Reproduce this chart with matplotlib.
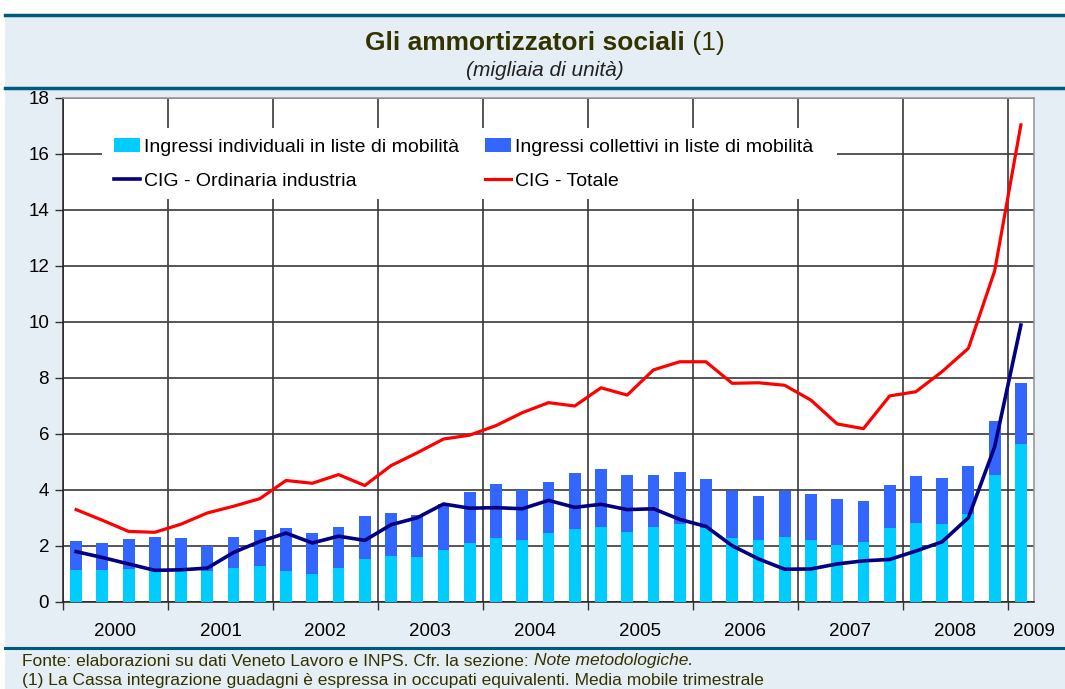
import numpy as np
import matplotlib
matplotlib.use('Agg')
import matplotlib.pyplot as plt
from matplotlib.patches import Rectangle, Patch
from matplotlib.lines import Line2D

plt.rcParams['font.family'] = ['Liberation Sans', 'DejaVu Sans']

# Dati trimestrali 2000 T1 - 2009 T1 (migliaia di unità)
anni = ['2000', '2001', '2002', '2003', '2004', '2005', '2006', '2007', '2008', '2009']
individuali = [1.16, 1.15, 1.18, 1.15, 1.12, 1.12, 1.23, 1.28, 1.11, 0.99, 1.21, 1.55,
               1.66, 1.61, 1.85, 2.09, 2.28, 2.20, 2.45, 2.59, 2.69, 2.49, 2.69, 2.80,
               2.65, 2.28, 2.22, 2.32, 2.20, 2.05, 2.13, 2.63, 2.83, 2.78, 3.13, 4.53, 5.63]
collettivi = [1.01, 0.94, 1.08, 1.16, 1.16, 0.88, 1.10, 1.30, 1.54, 1.46, 1.47, 1.52,
              1.51, 1.48, 1.65, 1.84, 1.95, 1.81, 1.83, 2.00, 2.07, 2.04, 1.83, 1.85,
              1.75, 1.69, 1.56, 1.65, 1.66, 1.64, 1.47, 1.54, 1.67, 1.65, 1.73, 1.93, 2.20]
cig_ordinaria = [1.80, 1.59, 1.36, 1.13, 1.15, 1.21, 1.77, 2.16, 2.46, 2.11, 2.35, 2.20,
                 2.76, 3.01, 3.50, 3.35, 3.37, 3.33, 3.63, 3.38, 3.49, 3.30, 3.33, 2.95,
                 2.70, 2.01, 1.54, 1.17, 1.18, 1.36, 1.47, 1.52, 1.82, 2.15, 3.01, 5.54, 9.89]
cig_totale = [3.30, 2.92, 2.52, 2.49, 2.78, 3.18, 3.42, 3.69, 4.34, 4.24, 4.55, 4.16,
              4.87, 5.33, 5.82, 5.96, 6.30, 6.76, 7.12, 7.00, 7.65, 7.39, 8.29, 8.58,
              8.58, 7.81, 7.83, 7.74, 7.21, 6.36, 6.19, 7.36, 7.51, 8.23, 9.06, 11.82, 17.04]

W, H = 1065, 689
fig = plt.figure(figsize=(W / 100, H / 100), dpi=100)
fig.patch.set_facecolor('white')

def px(x, y):
    return x / W, 1 - y / H

# sfondo azzurro e filetti
bg = '#E6EEF5'
rule = '#005A80'
olive = '#333300'
fig.add_artist(Rectangle(px(5, 689), 1, (689 - 14) / H, transform=fig.transFigure,
                         facecolor=bg, edgecolor='none', zorder=-10))
for yy, lw in [(14.5, 2.5), (87.5, 2.5), (648, 2.2)]:
    fig.add_artist(Line2D([5 / W, 1], [1 - yy / H] * 2, color=rule, lw=lw, zorder=-5))

# assi
l, r, t, b = 63, 1034, 98, 602
ax = fig.add_axes([l / W, 1 - b / H, (r - l) / W, (b - t) / H])
ax.set_facecolor('white')

x = np.arange(len(individuali))
ax.bar(x, individuali, width=0.45, color='#00CCFF', zorder=3)
ax.bar(x, collettivi, width=0.45, bottom=individuali, color='#3366FF', zorder=3)
ax.plot(x, cig_ordinaria, color='#000080', lw=2.6, zorder=4)
ax.plot(x, cig_totale, color='#FF0000', lw=2.3, zorder=4)

ax.set_xlim(-0.5, len(x) - 0.5)
ax.set_ylim(0, 18)
ax.set_yticks(np.arange(0, 19, 2))
ax.set_xticks(np.arange(-0.5, len(x) - 1, 4))
ax.set_xticks([1.5 + 4 * i for i in range(9)] + [36.5], minor=True)
ax.set_xticklabels([])
ax.set_xticklabels(anni, minor=True)
ax.tick_params(axis='x', which='major', length=6, width=1, color='#333333', direction='out')
ax.tick_params(axis='x', which='minor', length=0, pad=15, labelsize=13.5)
ax.tick_params(axis='y', length=6, width=1, color='#333333', pad=4, labelsize=13.5)
ax.grid(True, which='major', color='#383838', lw=1.2, zorder=1)
ax.set_axisbelow(True)
for s in ['top', 'right']:
    ax.spines[s].set_color('#999999')
    ax.spines[s].set_linewidth(1.2)
for s in ['left', 'bottom']:
    ax.spines[s].set_color('#222222')
    ax.spines[s].set_linewidth(1.1)

# legenda su fondo bianco
ax.add_patch(Rectangle(px(102, 199), (837 - 102) / W, (199 - 128) / H,
                       transform=fig.transFigure, facecolor='white', edgecolor='none', zorder=2))
handles = [Patch(facecolor='#00CCFF'), Patch(facecolor='#3366FF'),
           Line2D([], [], color='#000080', lw=2.6), Line2D([], [], color='#FF0000', lw=2.3)]
labels = ['Ingressi individuali in liste di mobilità', 'Ingressi collettivi in liste di mobilità',
          'CIG - Ordinaria industria', 'CIG - Totale']
order = [0, 2, 1, 3]
leg = ax.legend([handles[i] for i in order], [labels[i] for i in order], ncol=2,
                loc='upper left', bbox_to_anchor=px(114, 138), bbox_transform=fig.transFigure,
                frameon=False, fontsize=14, handlelength=1.35, handleheight=0.75,
                handletextpad=0.2, columnspacing=1.3, labelspacing=0.85, borderpad=0,
                borderaxespad=0)
leg.set_zorder(5)

# titolo
fig.canvas.draw()
rend = fig.canvas.get_renderer()
t1 = fig.text(0, 0, 'Gli ammortizzatori sociali', fontsize=19, fontweight='bold', color=olive)
t2 = fig.text(0, 0, ' (1)', fontsize=19, color=olive)
w1 = t1.get_window_extent(rend).width
w2 = t2.get_window_extent(rend).width
x0 = 545 - (w1 + w2) / 2
t1.set_position(px(x0, 43))
t1.set_va('center')
t2.set_position(px(x0 + w1, 43))
t2.set_va('center')
fig.text(*px(545, 70), '(migliaia di unità)', fontsize=15, style='italic',
         color='#222222', ha='center', va='center')

# note
f1 = fig.text(*px(22, 661), 'Fonte: elaborazioni su dati Veneto Lavoro e INPS. Cfr. la sezione: ',
              fontsize=12.5, color=olive, va='center')
wf = f1.get_window_extent(rend).width
fig.text(*px(22 + wf, 661), 'Note metodologiche.', fontsize=12.5, style='italic',
         color=olive, va='center')
fig.text(*px(22, 680), '(1) La Cassa integrazione guadagni è espressa in occupati equivalenti. '
         'Media mobile trimestrale', fontsize=12.5, color=olive, va='center')

fig.savefig('out.png', dpi=100, facecolor=fig.get_facecolor())
